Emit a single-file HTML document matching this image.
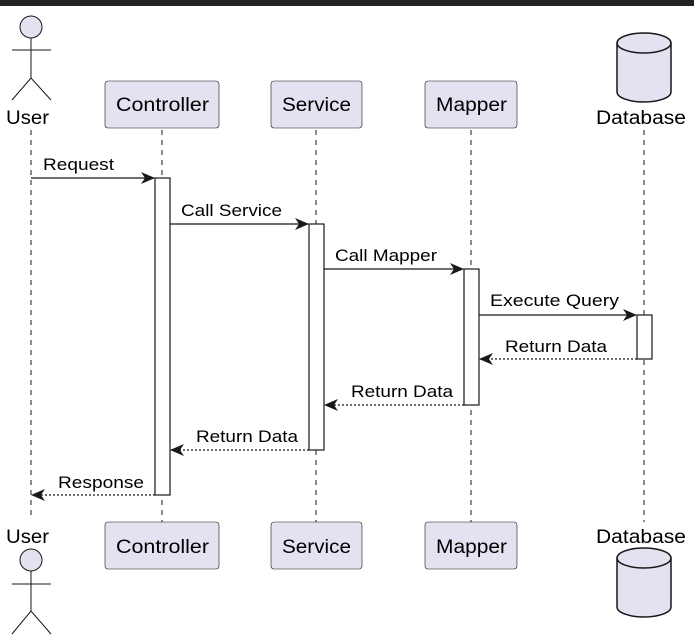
<!DOCTYPE html>
<html><head><meta charset="utf-8"><style>
html,body{margin:0;padding:0;background:#fff;}
svg{display:block;}
text{font-family:"Liberation Sans","DejaVu Sans",sans-serif;fill:#000;}
</style></head><body>
<svg width="694" height="641" viewBox="0 0 694 641" xmlns="http://www.w3.org/2000/svg">
<rect x="0" y="0" width="694" height="6" fill="#222"/>
<defs>
<marker id="a" viewBox="0 0 14 12" refX="13" refY="6" markerWidth="14" markerHeight="12" markerUnits="userSpaceOnUse" orient="auto">
<path d="M0,0 L14,6 L0,12 L4,6 Z" fill="#181818"/></marker>
</defs>
<g stroke="#181818" stroke-width="1" stroke-dasharray="5,5" fill="none">
<line x1="31" y1="130" x2="31" y2="520"/>
<line x1="162" y1="130" x2="162" y2="522"/>
<line x1="316" y1="130" x2="316" y2="522"/>
<line x1="471" y1="130" x2="471" y2="522"/>
<line x1="644" y1="130" x2="644" y2="522"/>
</g>
<g fill="#e2e2f0" stroke="#181818" stroke-width="1">
<circle cx="31" cy="27" r="11"/>
<circle cx="31" cy="560" r="11"/>
</g>
<g stroke="#181818" stroke-width="1" fill="none">
<path d="M31,38 V78 M12,50 H51 M12,100 L31,78 L51,100"/>
<path d="M31,571 V611 M12,584 H51 M12,634 L31,611 L51,634"/>
</g>
<text x="6" y="124" font-size="19" textLength="43" lengthAdjust="spacingAndGlyphs">User</text>
<text x="6" y="543" font-size="19" textLength="43" lengthAdjust="spacingAndGlyphs">User</text>
<g fill="#e2e2f0" stroke="#181818" stroke-width="0.6">
<rect x="105" y="81" width="114" height="47" rx="3"/>
<rect x="271" y="81" width="91" height="47" rx="3"/>
<rect x="425" y="81" width="92" height="47" rx="3"/>
<rect x="105" y="522" width="114" height="47" rx="3"/>
<rect x="271" y="522" width="91" height="47" rx="3"/>
<rect x="425" y="522" width="92" height="47" rx="3"/>
</g>
<g font-size="19" lengthAdjust="spacingAndGlyphs">
<text x="116" y="111" textLength="93" lengthAdjust="spacingAndGlyphs">Controller</text>
<text x="282" y="111" textLength="69" lengthAdjust="spacingAndGlyphs">Service</text>
<text x="436" y="111" textLength="71" lengthAdjust="spacingAndGlyphs">Mapper</text>
<text x="116" y="553" textLength="93" lengthAdjust="spacingAndGlyphs">Controller</text>
<text x="282" y="553" textLength="69" lengthAdjust="spacingAndGlyphs">Service</text>
<text x="436" y="553" textLength="71" lengthAdjust="spacingAndGlyphs">Mapper</text>
</g>
<g fill="#e2e2f0" stroke="#181818" stroke-width="1.5">
<path d="M617,43 A27,10 0 0 1 671,43 V92 A27,10 0 0 1 617,92 Z"/>
<path d="M617,43 A27,10 0 0 0 671,43" fill="none"/>
<path d="M617,558 A27,10 0 0 1 671,558 V607 A27,10 0 0 1 617,607 Z"/>
<path d="M617,558 A27,10 0 0 0 671,558" fill="none"/>
</g>
<text x="596" y="124" font-size="19" textLength="90" lengthAdjust="spacingAndGlyphs">Database</text>
<text x="596" y="543" font-size="19" textLength="90" lengthAdjust="spacingAndGlyphs">Database</text>
<g fill="#fff" stroke="#181818" stroke-width="1.2">
<rect x="155" y="178" width="15" height="317"/>
<rect x="309" y="224" width="15" height="226"/>
<rect x="464" y="269" width="15" height="136"/>
<rect x="637" y="315" width="15" height="44"/>
</g>
<g stroke="#181818" stroke-width="1.3" fill="none" marker-end="url(#a)">
<line x1="31" y1="178" x2="154" y2="178"/>
<line x1="170" y1="224" x2="308" y2="224"/>
<line x1="324" y1="269" x2="463" y2="269"/>
<line x1="479" y1="315" x2="636" y2="315"/>
</g>
<g stroke="#181818" stroke-width="1.3" fill="none" stroke-dasharray="2,2" marker-end="url(#a)">
<line x1="637" y1="359" x2="480" y2="359"/>
<line x1="464" y1="405" x2="325" y2="405"/>
<line x1="309" y1="450" x2="171" y2="450"/>
<line x1="155" y1="495" x2="32" y2="495"/>
</g>
<g font-size="17">
<text x="43" y="170" textLength="71" lengthAdjust="spacingAndGlyphs">Request</text>
<text x="181" y="216" textLength="101" lengthAdjust="spacingAndGlyphs">Call Service</text>
<text x="335" y="261" textLength="102" lengthAdjust="spacingAndGlyphs">Call Mapper</text>
<text x="490" y="306" textLength="129" lengthAdjust="spacingAndGlyphs">Execute Query</text>
<text x="505" y="352" textLength="102" lengthAdjust="spacingAndGlyphs">Return Data</text>
<text x="351" y="397" textLength="102" lengthAdjust="spacingAndGlyphs">Return Data</text>
<text x="196" y="442" textLength="102" lengthAdjust="spacingAndGlyphs">Return Data</text>
<text x="58" y="488" textLength="86" lengthAdjust="spacingAndGlyphs">Response</text>
</g>
</svg>
</body></html>
